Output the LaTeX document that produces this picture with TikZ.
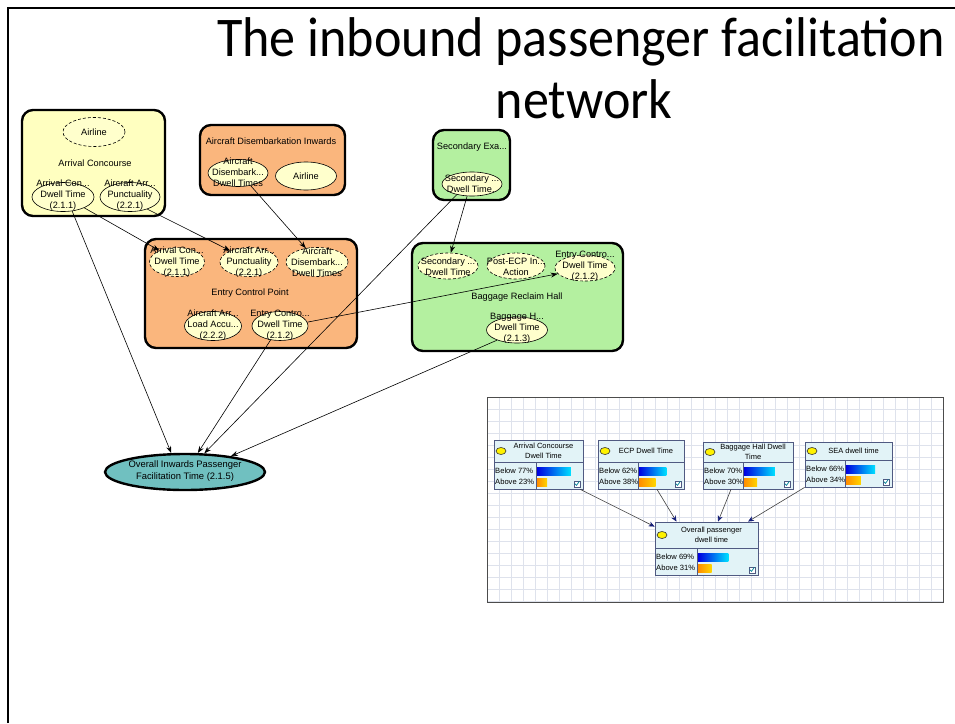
\documentclass[tikz,border=0pt]{standalone}
\usepackage{fontspec}
\setmainfont{Liberation Sans}
\newfontfamily\titlefont{Carlito}
\usetikzlibrary{shapes.geometric,arrows.meta,calc}

\definecolor{yelbox}{RGB}{255,255,192}
\definecolor{orgbox}{RGB}{250,182,125}
\definecolor{grnbox}{RGB}{180,240,160}
\definecolor{ellfill}{RGB}{255,255,204}
\definecolor{tealfill}{RGB}{112,192,192}
\definecolor{cardfill}{RGB}{226,243,247}
\definecolor{cardedge}{RGB}{80,90,130}
\definecolor{gridc}{RGB}{222,226,236}
\definecolor{navyarr}{RGB}{20,30,120}
\definecolor{blueA}{RGB}{0,0,225}
\definecolor{blueB}{RGB}{0,225,255}
\definecolor{orgA}{RGB}{255,140,0}
\definecolor{orgB}{RGB}{255,215,0}
\definecolor{chkc}{RGB}{0,130,150}

% one Netica-style belief card:
% #1 name, #2 #3 top-left, #4 #5 bottom-right, #6 divider x, #7 title, #8 below %, #9 above %
\newcommand\netcard[9]{%
  \pgfmathsetmacro\hb{#5-27}%
  \pgfmathsetmacro\hc{(#3+\hb)/2}%
  \node[cardbox, minimum width=#4pt-#2pt, minimum height=#5pt-#3pt]
    (#1) at ({(#2+#4)/2},{(#3+#5)/2}) {};
  \draw[cardline] (#2,\hb) -- (#4,\hb);
  \draw[cardline] (#6,\hb) -- (#6,#5);
  \node[dot] (#1dot) at (#2+7,\hc) {};
  \node[cardtitle] (#1t) at ({(#2+#4)/2+5},\hc) {#7};
  \node[cardtxt] (#1b) at (#2+1,#5-18) {Below #8\%};
  \node[cardtxt] (#1a) at (#2+1,#5-7) {Above #9\%};
  \shade[left color=blueA, right color=blueB] (#6+1,#5-22) rectangle ({#6+1+0.44*#8},#5-14);
  \shade[left color=orgA, right color=orgB] (#6+1,#5-11) rectangle ({#6+1+0.44*#9},#5-3);
  \node[chk] (#1c) at (#4-6,#5-5) {};
  \draw[chkc, line width=0.7pt] (#4-8.3,#5-5.5) -- (#4-6.5,#5-3.6) -- (#4-3.6,#5-7.8);
}

\begin{document}
\begin{tikzpicture}[x=1pt,y=-1pt,
  cbox/.style={draw, line width=2.4pt, rounded corners=11pt, inner sep=0pt},
  ell/.style={ellipse, draw, line width=0.6pt, fill=ellfill, inner sep=0pt},
  dell/.style={ell, dash pattern=on 3pt off 2pt},
  etxt/.style={align=center, inner sep=0pt, font=\fontsize{9.2}{11.2}\selectfont},
  ctxt/.style={inner sep=0pt, font=\fontsize{9.2}{11}\selectfont},
  arr/.style={-{Stealth[length=7pt,width=5pt]}, line width=0.6pt},
  iarr/.style={-{Stealth[length=6pt,width=5pt,color=navyarr]}, draw=black!75, line width=0.6pt},
  cardbox/.style={draw=cardedge, fill=cardfill, line width=0.8pt, inner sep=0pt},
  cardline/.style={draw=cardedge, line width=0.6pt},
  cardtitle/.style={align=center, inner sep=0pt, font=\fontsize{7.5}{10}\selectfont},
  cardtxt/.style={anchor=west, inner sep=0pt, font=\fontsize{7.6}{9}\selectfont},
  dot/.style={ellipse, draw=black!80, fill=yellow, line width=0.6pt, minimum width=10pt, minimum height=7pt, inner sep=0pt},
  chk/.style={draw=cardedge, fill=white, line width=0.5pt, minimum size=6pt, inner sep=0pt},
  ttl/.style={font=\titlefont\fontsize{56}{62}\selectfont, anchor=base, inner sep=0pt},
]
\useasboundingbox (0,0) rectangle (955,723);
\fill[white] (0,0) rectangle (955,723);

% page frame
\draw[line width=2pt] (8,723) -- (8,8) -- (955,8);

% heading
\node[ttl] (title1) at (581,56) {\scalebox{0.93}[1]{The inbound passenger facilitation}};
\node[ttl] (title2) at (584,118) {\scalebox{0.93}[1]{network}};

% ---------- containers ----------
\node[cbox, fill=yelbox, minimum width=143pt, minimum height=106pt] (arrconc) at (93.5,163) {};
\node[ctxt] (arrconcT) at (95,163) {Arrival Concourse};
\node[dell, minimum width=62pt, minimum height=29pt] (air1) at (94,132) {};
\node[etxt] (air1t) at (94,132) {Airline};
\node[ell, minimum width=62pt, minimum height=29pt] (ac1) at (63,197) {};
\node[etxt] (ac1t) at (63,195) {Arrival Con...\\Dwell Time\\(2.1.1)};
\node[ell, minimum width=60pt, minimum height=29pt] (aa1) at (130,197) {};
\node[etxt] (aa1t) at (130,195) {Aircraft Arr...\\Punctuality\\(2.2.1)};

\node[cbox, fill=orgbox, minimum width=145pt, minimum height=70pt] (adi) at (272.5,160) {};
\node[ctxt] (adiT) at (271,141) {Aircraft Disembarkation Inwards};
\node[ell, minimum width=60pt, minimum height=27pt] (adi1) at (238,173) {};
\node[etxt] (adi1t) at (238,172) {Aircraft\\Disembark...\\Dwell Times};
\node[ell, minimum width=61pt, minimum height=28pt] (air2) at (306,176) {};
\node[etxt] (air2t) at (306,176) {Airline};

\node[cbox, fill=grnbox, minimum width=77pt, minimum height=70pt] (secx) at (471.5,165) {};
\node[ctxt] (secxT) at (472,147) {Secondary Exa...};
\node[ell, minimum width=60pt, minimum height=24pt] (sec1) at (472,184) {};
\node[etxt] (sec1t) at (472,184) {Secondary ...\\Dwell Time..};

\node[cbox, fill=orgbox, minimum width=212pt, minimum height=109pt] (ecp) at (251,293.5) {};
\node[ctxt] (ecpT) at (250,293) {Entry Control Point};
\node[dell, minimum width=55pt, minimum height=29pt] (ecp1) at (177,262) {};
\node[etxt] (ecp1t) at (177,262) {Arrival Con...\\Dwell Time\\(2.1.1)};
\node[dell, minimum width=58pt, minimum height=29pt] (ecp2) at (249,262) {};
\node[etxt] (ecp2t) at (249,262) {Aircraft Arr...\\Punctuality\\(2.2.1)};
\node[dell, minimum width=62pt, minimum height=29pt] (ecp3) at (317,262) {};
\node[etxt] (ecp3t) at (317,262) {Aircraft\\Disembark...\\Dwell Times};
\node[ell, minimum width=57pt, minimum height=29pt] (ecp4) at (213,326) {};
\node[etxt] (ecp4t) at (213,325) {Aircraft Arr...\\Load Accu...\\(2.2.2)};
\node[ell, minimum width=56pt, minimum height=29pt] (ecp5) at (280,326) {};
\node[etxt] (ecp5t) at (280,325) {Entry Contro...\\Dwell Time\\(2.1.2)};

\node[cbox, fill=grnbox, minimum width=211pt, minimum height=108pt] (brh) at (517.5,297) {};
\node[ctxt] (brhT) at (517,297) {Baggage Reclaim Hall};
\node[dell, minimum width=60pt, minimum height=26pt] (bag1) at (448,266) {};
\node[etxt] (bag1t) at (448,267) {Secondary ...\\Dwell Time};
\node[dell, minimum width=58pt, minimum height=26pt] (bag2) at (516,266) {};
\node[etxt] (bag2t) at (516,267) {Post-ECP In...\\Action};
\node[dell, minimum width=60pt, minimum height=26pt] (bag3) at (585,268) {};
\node[etxt] (bag3t) at (585,266) {Entry Contro...\\Dwell Time\\(2.1.2)};
\node[ell, minimum width=61pt, minimum height=26pt] (bag4) at (517,330) {};
\node[etxt] (bag4t) at (517,328) {Baggage H...\\Dwell Time\\(2.1.3)};

% overall outcome node
\node[ellipse, draw, line width=2.4pt, fill=tealfill, minimum width=160pt, minimum height=36pt, inner sep=0pt] (ov) at (185,472) {};
\node[etxt, font=\fontsize{9.4}{12}\selectfont] (ovt) at (185,471) {Overall Inwards Passenger\\Facilitation Time (2.1.5)};

% ---------- dependencies ----------
\draw[arr] (ac1.-57) -- (ov.126);
\draw[arr] (ac1.-27) -- (ecp1.147);
\draw[arr] (aa1.-35) -- (ecp2.149);
\draw[arr] (adi1.-45) -- (ecp3.129);
\draw[arr] (sec1.-145) -- (ov.44);
\draw[arr] (sec1.-112) -- (bag1.78);
\draw[arr] (ecp5.-124) -- (ov.56);
\draw[arr] (ecp5.8) -- (bag3.192);
\draw[arr] (bag4.-153) -- (ov.19);

% ---------- belief network panel ----------
\node[draw=black!70, fill=white, line width=0.8pt, minimum width=456pt, minimum height=205pt, inner sep=0pt] (panel) at (715,499.5) {};
\begin{scope}
  \clip (487,397) rectangle (943,602);
  \foreach \gx in {499,511,...,943} \draw[gridc, line width=0.4pt] (\gx,397) -- (\gx,602);
  \foreach \gy in {409,421,...,602} \draw[gridc, line width=0.4pt] (487,\gy) -- (943,\gy);
\end{scope}
\draw[black!70, line width=0.8pt] (487,397) rectangle (943,602);

\netcard{iA}{494}{440}{583}{489}{536}{Arrival Concourse\\Dwell Time}{77}{23}
\netcard{iB}{598}{440}{684}{489}{638}{ECP Dwell Time}{62}{38}
\netcard{iC}{703}{442}{793}{489}{743}{Baggage Hall Dwell\\Time}{70}{30}
\netcard{iD}{805}{442}{892}{487}{845}{SEA dwell time}{66}{34}
\netcard{iE}{655}{522}{758}{575}{697}{Overall passenger\\dwell time}{69}{31}

\draw[iarr] ([xshift=-3pt]iA.south east) -- ([yshift=-5pt]iE.north west);
\draw[iarr] ([xshift=16pt]iB.south) -- ([xshift=-30pt]iE.north);
\draw[iarr] ([xshift=-17pt]iC.south) -- ([xshift=11.5pt]iE.north);
\draw[iarr] (iD.south west) -- ([xshift=41.5pt]iE.north);
\end{tikzpicture}
\end{document}
